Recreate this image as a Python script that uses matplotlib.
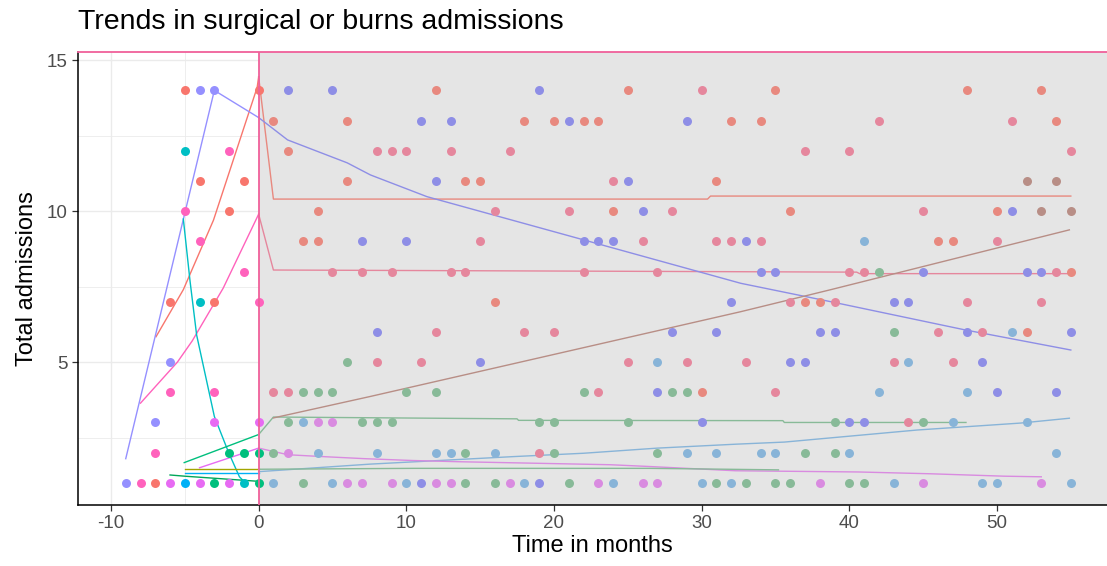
import matplotlib
matplotlib.use("Agg")
import matplotlib.pyplot as plt

plt.rcParams['font.family'] = ['Liberation Sans', 'DejaVu Sans']
plt.rcParams['axes.unicode_minus'] = False

title = "Trends in surgical or burns admissions"
x_label = "Time in months"
y_label = "Total admissions"
x_ticks = [-10, 0, 10, 20, 30, 40, 50]
y_ticks = [5, 10, 15]

# ---------------- points: pre-intervention period ----------------
pre_red_x = [-5, -4, -1, -2, -6, -3, -7, 0]
pre_red_y = [14, 11, 11, 10, 7, 7, 1, 14]
pre_purple_x = [-4, -3, -6, -7, -9]
pre_purple_y = [14, 14, 5, 3, 1]
pre_cyan_x = [-5, -4, -1]
pre_cyan_y = [12, 7, 1]
pre_blue_x = [-5]
pre_blue_y = [1]
pre_pink_x = [-5, -2, -4, -1, -6, -3, -7, -8, 0]
pre_pink_y = [10, 12, 9, 8, 4, 4, 2, 1, 7]
pre_violet_x = [-6, -4, -2, -3, 0]
pre_violet_y = [1, 1, 1, 3, 3]
pre_teal_x = [-3, -2, -1, 0, 0]
pre_teal_y = [1, 2, 2, 2, 1]

# ---------------- points: post-intervention period ----------------
post_salmon_x = [12, 25, 35, 48, 53, 1, 6, 18, 20, 22, 23, 32, 34, 54, 2, 6, 14, 15, 31,
                 4, 24, 36, 50, 3, 4, 46, 47, 55, 16, 37, 38, 52, 30]
post_salmon_y = [14, 14, 14, 14, 14, 13, 13, 13, 13, 13, 13, 13, 13, 13, 12, 11, 11, 11, 11,
                 10, 10, 10, 10, 9, 9, 9, 9, 8, 7, 7, 7, 6, 4]
post_pink_x = [30, 42, 51, 8, 9, 10, 13, 17, 37, 40, 55, 24, 16, 21, 28, 45,
               15, 26, 31, 32, 34, 50, 5, 7, 9, 13, 14, 22, 27, 40, 41, 54,
               36, 39, 48, 53, 12, 18, 20, 46, 49, 8, 11, 25, 29, 33, 43, 47,
               1, 2, 23, 35, 44, 19]
post_pink_y = [14, 13, 13, 12, 12, 12, 12, 12, 12, 12, 12, 11, 10, 10, 10, 10,
               9, 9, 9, 9, 9, 9, 8, 8, 8, 8, 8, 8, 8, 8, 8, 8,
               7, 7, 7, 7, 6, 6, 6, 6, 6, 5, 5, 5, 5, 5, 5, 5,
               4, 4, 4, 4, 3, 2]
post_purple_x = [2, 5, 19, 11, 13, 21, 29, 12, 25, 26, 51, 7, 10, 22, 23, 24, 33,
                 34, 35, 45, 52, 53, 32, 43, 44, 8, 28, 31, 38, 39, 48, 55,
                 15, 36, 37, 49, 27, 50, 54, 30, 40, 41, 11, 19]
post_purple_y = [14, 14, 14, 13, 13, 13, 13, 11, 11, 10, 10, 9, 9, 9, 9, 9, 9,
                 8, 8, 8, 8, 8, 7, 7, 7, 6, 6, 6, 6, 6, 6, 6,
                 5, 5, 5, 5, 4, 4, 4, 3, 3, 3, 1, 1]
post_green_x = [42, 43, 6, 3, 4, 5, 10, 12, 22, 28, 29, 2, 7, 8, 9, 19, 20, 25, 39, 45,
                1, 14, 20, 27, 37, 39, 3, 14, 16, 21, 31, 33, 35, 36, 40, 41]
post_green_y = [8, 6, 5, 4, 4, 4, 4, 4, 4, 4, 4, 3, 3, 3, 3, 3, 3, 3, 3, 3,
                2, 2, 2, 2, 2, 2, 1, 1, 1, 1, 1, 1, 1, 1, 1, 1]
post_lightblue_x = [41, 51, 27, 44, 42, 48, 3, 47, 52, 4, 8, 12, 13, 16, 29, 31, 34, 35, 40, 54,
                    1, 5, 10, 18, 24, 30, 32, 43, 49, 50, 55]
post_lightblue_y = [9, 6, 5, 5, 4, 4, 3, 3, 3, 2, 2, 2, 2, 2, 2, 2, 2, 2, 2, 2,
                    1, 1, 1, 1, 1, 1, 1, 1, 1, 1, 1]
post_violet_x = [4, 5, 2, 6, 7, 9, 12, 13, 17, 23, 26, 27, 38, 45, 53]
post_violet_y = [3, 3, 2, 1, 1, 1, 1, 1, 1, 1, 1, 1, 1, 1, 1]
post_brown_x = [52, 54, 53, 55]
post_brown_y = [11, 11, 10, 10]

# ---------------- fitted trend lines ----------------
red_pre_lx = [-6.95, -5.1, -3.06, -0.1, 0]
red_pre_ly = [5.84, 7.4, 9.7, 14.1, 14.45]
red_post_lx = [0, 1, 30.4, 30.6, 55]
red_post_ly = [14.45, 10.4, 10.4, 10.5, 10.5]
pink_pre_lx = [-8, -5.5, -4.5, -2.4, 0]
pink_pre_ly = [3.64, 5.0, 5.7, 7.45, 9.9]
pink_post_lx = [0, 1, 40.5, 40.7, 55]
pink_post_ly = [9.9, 8.05, 7.98, 7.93, 7.93]
purple_pre_lx = [-9, -3, 0]
purple_pre_ly = [1.8, 14, 13.1]
purple_post_lx = [0, 1.96, 6.0, 7.57, 11.4, 22, 32.65, 38.75, 47.8, 55]
purple_post_ly = [13.1, 12.36, 11.6, 11.2, 10.48, 9.05, 7.61, 7.0, 6.07, 5.4]
cyan_pre_lx = [-5.1, -4.65, -4.2, -3, -2.03, -1.3, -1]
cyan_pre_ly = [9.74, 7.7, 5.9, 3.2, 2.0, 1.2, 1.05]
teal_pre_lx = [-5.04, 0]
teal_pre_ly = [1.67, 2.6]
green_post_lx = [0, 1, 17.5, 17.6, 35.5, 35.6, 47.9]
green_post_ly = [2.6, 3.18, 3.12, 3.07, 3.06, 3.0, 3.0]
brown_post_lx = [1, 7.55, 32.65, 38.75, 54.9]
brown_post_ly = [3.15, 3.86, 6.67, 7.4, 9.38]
lightblue_post_lx = [0, 7.55, 17.3, 22, 27, 32.3, 35.6, 44.6, 51.6, 54.9]
lightblue_post_ly = [1.37, 1.62, 1.87, 1.98, 2.15, 2.28, 2.35, 2.75, 2.98, 3.14]
violet_pre_lx = [-4, 0]
violet_pre_ly = [1.5, 2.15]
violet_post_lx = [0, 2, 4.3, 7.2, 10.4, 13.5, 23.8, 26.5, 32.3, 40.6, 45.5, 50.5, 53]
violet_post_ly = [2.15, 1.93, 1.87, 1.8, 1.74, 1.7, 1.6, 1.54, 1.4, 1.36, 1.3, 1.22, 1.2]
olive_pre_lx = [-5, 0]
olive_pre_ly = [1.45, 1.45]
blue_pre_lx = [-5, 0]
blue_pre_ly = [1.32, 1.32]
dgreen_pre_lx = [-6, -5, 0]
dgreen_pre_ly = [1.26, 1.22, 1.05]
green2_post_lx = [0, 10.5, 26.5, 35.2]
green2_post_ly = [1.45, 1.48, 1.48, 1.43]

# ---------------- colours ----------------
C = {
    'red': '#F8766D', 'purple': '#9590FF', 'cyan': '#00BFC4', 'blue': '#00B0F6',
    'pink': '#FF62BC', 'violet': '#E76BF3', 'teal': '#00BF7D', 'olive': '#A3A500',
    'dgreen': '#00A65A',
    'p_salmon': '#E8897F', 'p_pink': '#E5879D', 'p_purple': '#8E8EE6', 'p_green': '#88BA98',
    'p_lightblue': '#88B4D8', 'p_violet': '#D98BE0', 'p_brown': '#B88E86',
}
vline_color = '#F0609A'
shade_color = '#E5E5E5'

fig = plt.figure(figsize=(11.07, 5.66), dpi=100)
ax = fig.add_axes([0.0705, 0.108, 0.9295, 0.800])
ax.set_xlim(-12.23, 57.45)
ax.set_ylim(0.27, 15.27)

# grid (theme_bw style)
for v in [-10, -5, 0, 5, 10, 15, 20, 25, 30, 35, 40, 45, 50, 55]:
    ax.axvline(v, color='#EBEBEB', lw=1.0 if v % 10 == 0 else 0.6, zorder=0)
for v in [2.5, 5, 7.5, 10, 12.5, 15]:
    ax.axhline(v, color='#EBEBEB', lw=1.0 if v % 5 == 0 else 0.6, zorder=0)

# shaded post period
ax.axvspan(0, 60, color=shade_color, zorder=1, lw=0)

LW = 1.0
lines = [
    (red_pre_lx, red_pre_ly, 'red'), (red_post_lx, red_post_ly, 'p_salmon'),
    (pink_pre_lx, pink_pre_ly, 'pink'), (pink_post_lx, pink_post_ly, 'p_pink'),
    (purple_pre_lx, purple_pre_ly, 'purple'), (purple_post_lx, purple_post_ly, 'p_purple'),
    (cyan_pre_lx, cyan_pre_ly, 'cyan'),
    (teal_pre_lx, teal_pre_ly, 'teal'), (green_post_lx, green_post_ly, 'p_green'),
    (brown_post_lx, brown_post_ly, 'p_brown'),
    (lightblue_post_lx, lightblue_post_ly, 'p_lightblue'),
    (violet_pre_lx, violet_pre_ly, 'violet'), (violet_post_lx, violet_post_ly, 'p_violet'),
    (olive_pre_lx, olive_pre_ly, 'olive'), (blue_pre_lx, blue_pre_ly, 'blue'),
    (dgreen_pre_lx, dgreen_pre_ly, 'dgreen'), (green2_post_lx, green2_post_ly, 'p_green'),
]
for lx, ly, c in lines:
    ax.plot(lx, ly, color=C[c], lw=LW, zorder=3)

pts = [
    (pre_red_x, pre_red_y, 'red'), (pre_purple_x, pre_purple_y, 'purple'),
    (pre_cyan_x, pre_cyan_y, 'cyan'), (pre_blue_x, pre_blue_y, 'blue'),
    (pre_pink_x, pre_pink_y, 'pink'), (pre_violet_x, pre_violet_y, 'violet'),
    (pre_teal_x, pre_teal_y, 'teal'),
    (post_salmon_x, post_salmon_y, 'p_salmon'), (post_pink_x, post_pink_y, 'p_pink'),
    (post_purple_x, post_purple_y, 'p_purple'), (post_green_x, post_green_y, 'p_green'),
    (post_lightblue_x, post_lightblue_y, 'p_lightblue'),
    (post_violet_x, post_violet_y, 'p_violet'), (post_brown_x, post_brown_y, 'p_brown'),
]
for px, py, c in pts:
    ax.scatter(px, py, s=42, color=C[c], lw=0, zorder=4)

ax.axvline(0, color=vline_color, lw=1.3, zorder=5)

for s in ['left', 'bottom']:
    ax.spines[s].set_color('black')
    ax.spines[s].set_linewidth(1.1)
ax.spines['top'].set_color(vline_color)
ax.spines['top'].set_linewidth(1.3)
ax.spines['right'].set_visible(False)

ax.set_xticks(x_ticks)
ax.set_yticks(y_ticks)
ax.tick_params(axis='both', colors='#333333', labelcolor='#4D4D4D', labelsize=13.5,
               length=4, width=0.9)
ax.set_xlabel(x_label, fontsize=17, color='black', labelpad=2)
ax.set_ylabel(y_label, fontsize=17, color='black', labelpad=6)
fig.text(0.0705, 0.962, title, fontsize=20.5, ha='left', va='center')

fig.savefig('out.png', dpi=100)
